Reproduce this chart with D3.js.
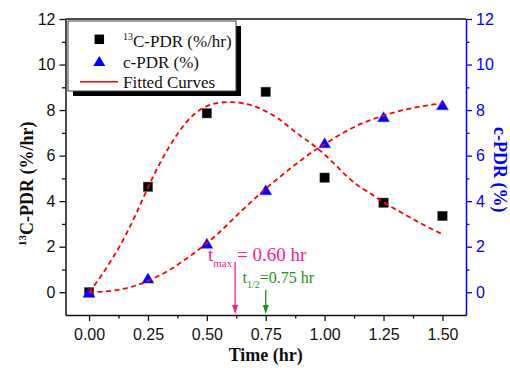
<!DOCTYPE html>
<html><head><meta charset="utf-8">
<script src="https://cdn.jsdelivr.net/npm/d3@7"></script>
<style>body{margin:0;background:#fff}</style>
</head><body><svg id="c" width="510" height="368"></svg>
<script>
// ---- data ----
const times = [0, 0.25, 0.5, 0.75, 1.0, 1.25, 1.5];
const pdr13C = [0, 4.63, 7.86, 8.8, 5.03, 3.93, 3.35];
const cPDR = [0, 0.62, 2.15, 4.5, 6.56, 7.71, 8.23];
const fitTimes = [0,0.05,0.1,0.15,0.2,0.25,0.3,0.35,0.4,0.45,0.5,0.55,0.6,0.65,0.7,0.75,0.8,0.85,0.9,0.95,1.0,1.05,1.1,1.15,1.2,1.25,1.3,1.35,1.4,1.45,1.5];
const fitPdr13C = [0,0.7,1.5,2.4,3.45,4.6,5.65,6.55,7.3,7.85,8.17,8.32,8.35,8.3,8.17,7.95,7.65,7.25,6.85,6.48,6.04,5.55,5.04,4.62,4.3,3.95,3.65,3.36,3.07,2.8,2.55];
const fitCPDR = [0,0.02,0.07,0.16,0.3,0.5,0.74,1.03,1.38,1.75,2.16,2.6,3.1,3.6,4.08,4.55,4.98,5.4,5.8,6.18,6.5,6.83,7.12,7.38,7.58,7.76,7.91,8.04,8.14,8.23,8.3];
const xTicks = [0, 0.25, 0.5, 0.75, 1.0, 1.25, 1.5];
const xMinorTicks = [0.125, 0.375, 0.625, 0.875, 1.125, 1.375];
const yTicks = [0, 2, 4, 6, 8, 10, 12];
const yMinorTicks = [1, 3, 5, 7, 9, 11];
const tMax = 0.62, tHalf = 0.75;
const legendLabels = ["C-PDR (%/hr)", "c-PDR (%)", "Fitted Curves"];

// ---- drawing ----
const svg = d3.select("#c");
const L = 65.5, R = 466, T = 19, B = 315;
const x = d3.scaleLinear().domain([-0.1, 1.6]).range([L, R]);
const y = d3.scaleLinear().domain([-1, 12]).range([B, T]);
const y2 = d3.scaleLinear().domain([-1, 12]).range([B, T]);
const serif = "'Liberation Serif','Times New Roman',serif";
const sans = "'Liberation Sans',Arial,sans-serif";
const BLUE = "#0000ff";

// top border
svg.append("line").attr("x1", L).attr("x2", R).attr("y1", T).attr("y2", T)
  .attr("stroke", "#111").attr("stroke-width", 1.5);

function styleAxis(g, color) {
  g.select(".domain").attr("stroke", color).attr("stroke-width", 1.5);
  g.selectAll(".tick line").attr("stroke", color).attr("stroke-width", 1.3);
  g.selectAll(".tick text").attr("fill", color).attr("font-family", sans).attr("font-size", 16);
}

// minor ticks first
svg.append("g").attr("transform", `translate(0,${B})`)
  .call(d3.axisBottom(x).tickValues(xMinorTicks).tickSize(3.5).tickFormat(""))
  .call(g => { g.select(".domain").remove(); g.selectAll("line").attr("stroke","#111").attr("stroke-width",1.3); });
svg.append("g").attr("transform", `translate(${L},0)`)
  .call(d3.axisLeft(y).tickValues(yMinorTicks).tickSize(3.5).tickFormat(""))
  .call(g => { g.select(".domain").remove(); g.selectAll("line").attr("stroke","#111").attr("stroke-width",1.3); });
svg.append("g").attr("transform", `translate(${R},0)`)
  .call(d3.axisRight(y2).tickValues(yMinorTicks).tickSize(3.5).tickFormat(""))
  .call(g => { g.select(".domain").remove(); g.selectAll("line").attr("stroke",BLUE).attr("stroke-width",1.3); });

const gx = svg.append("g").attr("transform", `translate(0,${B})`)
  .call(d3.axisBottom(x).tickValues(xTicks).tickSize(6).tickSizeOuter(0).tickPadding(8).tickFormat(d3.format(".2f")));
styleAxis(gx, "#111");
const gy = svg.append("g").attr("transform", `translate(${L},0)`)
  .call(d3.axisLeft(y).tickValues(yTicks).tickSize(6).tickSizeOuter(0).tickPadding(4).tickFormat(d3.format("d")));
styleAxis(gy, "#111");
const gy2 = svg.append("g").attr("transform", `translate(${R},0)`)
  .call(d3.axisRight(y2).tickValues(yTicks).tickSize(6).tickSizeOuter(0).tickPadding(4).tickFormat(d3.format("d")));
styleAxis(gy2, BLUE);

// axis titles
svg.append("text").attr("x", (L + R) / 2).attr("y", 361).attr("text-anchor", "middle")
  .attr("font-family", serif).attr("font-weight", "bold").attr("font-size", 18).attr("fill", "#111")
  .text("Time (hr)");
const lt = svg.append("text").attr("transform", "translate(33,246) rotate(-90)")
  .attr("font-family", serif).attr("font-weight", "bold").attr("font-size", 18).attr("fill", "#111");
lt.append("tspan").attr("font-size", 11).attr("dy", -7).text("13");
lt.append("tspan").attr("dy", 7).text("C-PDR (%/hr)");
svg.append("text").attr("transform", "translate(494,127) rotate(90)")
  .attr("font-family", serif).attr("font-weight", "bold").attr("font-size", 18).attr("fill", BLUE)
  .text("c-PDR (%)");

// markers
const triPath = "M0,-5L6,5L-6,5Z";
svg.append("g").selectAll("rect").data(times).join("rect")
  .attr("x", (d) => x(d) - 4.75).attr("y", (d, i) => y(pdr13C[i]) - 4.75)
  .attr("width", 9.5).attr("height", 9.5).attr("fill", "#000").attr("stroke", "#666").attr("stroke-width", 0.5);
svg.append("g").selectAll("path").data(times).join("path")
  .attr("transform", (d, i) => `translate(${x(d)},${y2(cPDR[i])})`)
  .attr("d", triPath).attr("fill", BLUE).attr("stroke", "#3a3aff").attr("stroke-width", 0.5);

// fitted curves
const line1 = d3.line().x((d) => x(d)).y((d, i) => y(fitPdr13C[i])).curve(d3.curveMonotoneX);
const line2 = d3.line().x((d) => x(d)).y((d, i) => y2(fitCPDR[i])).curve(d3.curveMonotoneX);
[line1, line2].forEach(l => svg.append("path").attr("d", l(fitTimes)).attr("fill", "none")
  .attr("stroke", "#ff0000").attr("stroke-width", 1.8).attr("stroke-dasharray", "5,3.5"));

// annotations
const PINK = "#ff1a8c", GREEN = "#1f8f1f";
function arrow(xv, y0, color) {
  const xp = x(xv);
  svg.append("line").attr("x1", xp).attr("x2", xp).attr("y1", y0).attr("y2", B - 8)
    .attr("stroke", color).attr("stroke-width", 1.3);
  svg.append("path").attr("d", `M${xp - 3},${B - 10}L${xp + 3},${B - 10}L${xp},${B - 1}Z`).attr("fill", color);
}
arrow(tMax, 262, PINK);
arrow(tHalf, 290, GREEN);
const ta = svg.append("text").attr("x", 208).attr("y", 261).attr("font-family", serif).attr("font-size", 19).attr("fill", PINK);
ta.append("tspan").text("t");
ta.append("tspan").attr("font-size", 11).attr("dy", 6).text("max");
ta.append("tspan").attr("dy", -6).text(" = 0.60 hr");
const tb = svg.append("text").attr("x", 242.5).attr("y", 283).attr("font-family", serif).attr("font-size", 16).attr("fill", GREEN);
tb.append("tspan").text("t");
tb.append("tspan").attr("font-size", 10).attr("dy", 5).text("1/2");
tb.append("tspan").attr("dy", -5).text("=0.75 hr");

// legend
const lg = svg.append("g");
lg.append("rect").attr("x", 73).attr("y", 26).attr("width", 168).attr("height", 70).attr("fill", "#000");
lg.append("rect").attr("x", 68).attr("y", 21).attr("width", 168).attr("height", 70)
  .attr("fill", "#fff").attr("stroke", "#444").attr("stroke-width", 1);
lg.append("rect").attr("x", 99.3 - 4.75).attr("y", 39.3 - 4.75).attr("width", 9.5).attr("height", 9.5).attr("fill", "#000");
lg.append("path").attr("transform", "translate(99.3,61)").attr("d", triPath).attr("fill", BLUE);
lg.append("line").attr("x1", 80).attr("x2", 118).attr("y1", 81.7).attr("y2", 81.7).attr("stroke", "#ff0000").attr("stroke-width", 1.5);
const lt1 = lg.append("text").attr("x", 123).attr("y", 46.5).attr("font-family", serif).attr("font-size", 17).attr("fill", "#111");
lt1.append("tspan").attr("font-size", 10).attr("dy", -7).text("13");
lt1.append("tspan").attr("dy", 7).text(legendLabels[0]);
lg.append("text").attr("x", 123).attr("y", 67.5).attr("font-family", serif).attr("font-size", 17).attr("fill", "#111").text(legendLabels[1]);
lg.append("text").attr("x", 123).attr("y", 87.5).attr("font-family", serif).attr("font-size", 17).attr("fill", "#111").text(legendLabels[2]);
</script></body></html>
